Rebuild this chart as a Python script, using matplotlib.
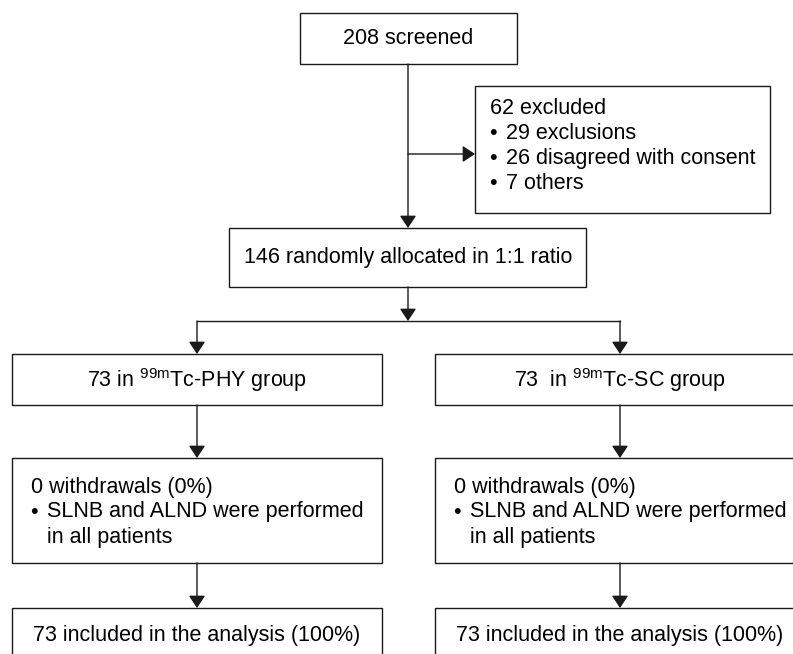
import matplotlib.pyplot as plt
from matplotlib.patches import Rectangle

plt.rcParams['font.family'] = ['Liberation Sans', 'DejaVu Sans']
plt.rcParams['mathtext.fontset'] = 'custom'
plt.rcParams['mathtext.rm'] = 'Liberation Sans'

# texts of the flow chart
screened_txt = "208 screened"
excluded_head = "62 excluded"
excluded_items = ["29 exclusions", "26 disagreed with consent", "7 others"]
allocated_txt = "146 randomly allocated in 1:1 ratio"
group_txt = ["73 in $^{\\mathrm{99m}}$Tc-PHY group",
             "73  in $^{\\mathrm{99m}}$Tc-SC group"]
withdraw_head = "0 withdrawals (0%)"
withdraw_item = ["SLNB and ALND were performed", "in all patients"]
included_txt = ["73 included in the analysis (100%)",
                "73 included in the analysis (100%)"]

W, H = 793, 654
fig = plt.figure(figsize=(W / 100, H / 100), dpi=100)
ax = fig.add_axes([0, 0, 1, 1])
ax.set_xlim(0, W)
ax.set_ylim(H, 0)
ax.axis('off')

ec = '#1a1a1a'
lw = 1.0
fs = 15.5


def box(x0, y0, x1, y1):
    ax.add_patch(Rectangle((x0, y0), x1 - x0, y1 - y0, fill=False,
                           ec=ec, lw=lw))


def arrow(x0, y0, x1, y1):
    ax.annotate('', xy=(x1, y1), xytext=(x0, y0),
                arrowprops=dict(arrowstyle='-|>,head_length=0.75,head_width=0.5',
                                mutation_scale=10, color=ec, lw=lw,
                                shrinkA=0, shrinkB=0))


# top
box(300, 13, 517, 64)
ax.text(408, 39, screened_txt, ha='center', va='center', fontsize=fs)
arrow(408, 64, 408, 228)
arrow(408, 154, 475, 154)

box(475, 86, 770, 213)
ax.text(490, 108, excluded_head, ha='left', va='center', fontsize=fs)
for i, s in enumerate(excluded_items):
    y = 108 + (i + 1) * 25.2
    ax.text(489, y, "\u2022", ha='left', va='center', fontsize=fs)
    ax.text(506, y, s, ha='left', va='center', fontsize=fs)

box(229, 228, 586, 287)
ax.text(408, 258, allocated_txt, ha='center', va='center', fontsize=fs)
arrow(408, 287, 408, 321)
ax.plot([197, 620], [321, 321], color=ec, lw=lw)

centers = [197, 620]
for k, cx in enumerate(centers):
    x0, x1 = cx - 185, cx + 185
    arrow(cx, 321, cx, 354)
    box(x0, 354, x1, 405)
    ax.text(cx, 380, group_txt[k], ha='center', va='center', fontsize=fs)
    arrow(cx, 405, cx, 458)
    box(x0, 458, x1, 563)
    ax.text(x0 + 19, 487, withdraw_head, ha='left', va='center', fontsize=fs)
    ax.text(x0 + 18, 512, "\u2022", ha='left', va='center', fontsize=fs)
    for i, s in enumerate(withdraw_item):
        ax.text(x0 + 35, 512 + i * 25, s, ha='left', va='center', fontsize=fs)
    arrow(cx, 563, cx, 608)
    box(x0, 608, x1, 700)
    ax.text(cx, 635, included_txt[k], ha='center', va='center', fontsize=fs)

fig.savefig('out.png', dpi=100)
